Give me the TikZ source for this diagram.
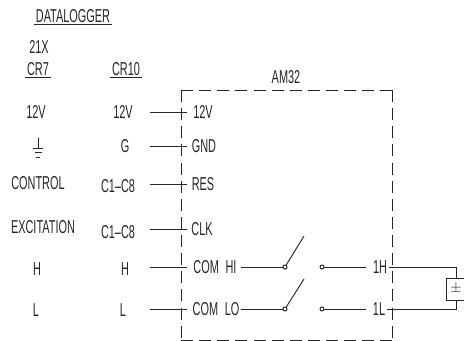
\documentclass[tikz,border=0pt]{standalone}
\usepackage{fontspec}
\usepackage{xcolor}
\setmainfont[FakeStretch=0.585]{Liberation Sans}
\colorlet{linecolor}{black!85}
\tikzset{
        lbl/.style={inner sep=1pt, font=\fontsize{14}{16}\selectfont, text=linecolor},
        wire/.style={draw=linecolor, line width=0.7pt},
        dashbox/.style={draw=linecolor, line width=0.7pt, dash pattern=on 9pt off 4.6pt},
        contact/.style={circle, draw=linecolor, line width=0.7pt, minimum size=3pt, inner sep=0pt},
}

\begin{document}
\begin{tikzpicture}[x=0.75pt, y=-0.75pt]
        \useasboundingbox (0, 0) rectangle (464, 341);

        % Headings
        \node[lbl] (datalogger) at (73, 16) {DATALOGGER};
        \node[lbl] (xxi) at (39, 47) {21X};
        \node[lbl] (crseven) at (38, 69) {CR7};
        \node[lbl] (crten) at (126, 69) {CR10};
        \node[lbl] (amtitle) at (286, 77) {AM32};
        \draw[wire] (datalogger.south west) -- (datalogger.south east);
        \draw[wire] (crseven.south west) -- (crseven.south east);
        \draw[wire] (crten.south west) -- (crten.south east);

        % AM32 enclosure
        \draw[dashbox] (181, 90) -- (181, 340);
        \draw[dashbox] (181, 90) -- (392, 90);
        \draw[dashbox] (392, 90) -- (392, 340);
        \draw[dashbox] (181, 340) -- (392, 340);

        % Datalogger columns
        \node[lbl] (leftvolt) at (36, 112) {12V};
        \node[lbl] (midvolt) at (123, 112) {12V};
        \node[lbl] (midgnd) at (125, 146) {G};
        \node[lbl] (leftres) at (38, 183) {CONTROL};
        \node[lbl] (midres) at (118, 186) {C1--C8};
        \node[lbl] (leftclk) at (43, 227) {EXCITATION};
        \node[lbl] (midclk) at (118, 232) {C1--C8};
        \node[lbl] (lefthi) at (37, 269) {H};
        \node[lbl] (midhi) at (125, 269) {H};
        \node[lbl] (leftlo) at (36, 310) {L};
        \node[lbl] (midlo) at (123, 310) {L};

        % Ground symbol
        \draw[wire] (38, 138) -- (38, 148) (33, 148) -- (43, 148) (34.5, 152) -- (41.5, 152) (36, 157) -- (40, 157);

        % Terminals, each with its wire across the enclosure
        \foreach \termname/\termtext/\xpos/\ypos in {volt/12V/203/112, gnd/GND/204/146, res/RES/203/184, clk/CLK/202/229, hi/COM\hspace{5pt}HI/215/267, lo/COM\hspace{5pt}LO/216/309} {
                \node[lbl] (term\termname) at (\xpos, \ypos) {\termtext};
                \coordinate (wirefrom\termname) at (150, \ypos);
                \coordinate (wireto\termname) at (187, \ypos);
                \draw[wire] (wirefrom\termname) -- (wireto\termname);
        }

        % Relay contacts
        \node[contact] (hileft) at (285, 267) {};
        \node[contact] (hiright) at (322, 267) {};
        \node[contact] (loleft) at (285, 309) {};
        \node[contact] (loright) at (322, 309) {};
        \coordinate (hiblade) at (304, 236);
        \coordinate (loblade) at (304, 279);
        \draw[wire, shorten <=2pt] (termhi.east) -- (hileft);
        \draw[wire] (termlo.east) -- (loleft);
        \draw[wire] (hileft) -- (hiblade);
        \draw[wire] (loleft) -- (loblade);

        \node[lbl] (onehigh) at (380, 267) {1H};
        \node[lbl] (onelow) at (379, 309) {1L};
        \draw[wire, shorten >=4pt] (hiright) -- (onehigh);
        \draw[wire, shorten >=4pt] (loright) -- (onelow);

        % Sensor
        \node[wire, minimum width=14pt, minimum height=16.5pt, inner sep=0pt, text=linecolor, font=\fontsize{11}{12}\selectfont] (sensor) at (456, 289) {$\pm$};
        \draw[wire] (onehigh.east) -- (sensor.north |- onehigh.east) -- (sensor.north);
        \draw[wire] (onelow.east) -- (sensor.south |- onelow.east) -- (sensor.south);
\end{tikzpicture}
\end{document}
